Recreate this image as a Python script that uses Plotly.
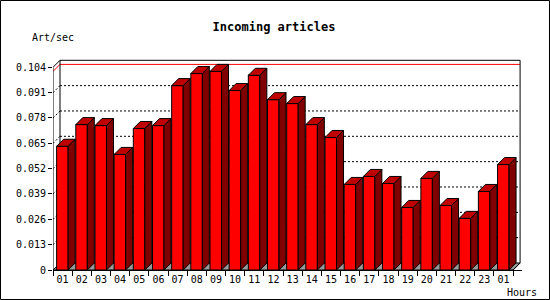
import plotly.graph_objects as go

# ---- data ----
hours = ["01", "02", "03", "04", "05", "06", "07", "08", "09", "10", "11", "12",
         "13", "14", "15", "16", "17", "18", "19", "20", "21", "22", "23", "01"]
values = [0.0635, 0.0746, 0.0741, 0.0593, 0.0726, 0.0741, 0.0946, 0.1008,
          0.1019, 0.0921, 0.0999, 0.0874, 0.0854, 0.0746, 0.0680, 0.0439,
          0.0480, 0.0444, 0.0321, 0.0470, 0.0331, 0.0265, 0.0403, 0.0541]
ytick_vals = [0, 0.013, 0.026, 0.039, 0.052, 0.065, 0.078, 0.091, 0.104]
ytick_text = ["0", "0.013", "0.026", "0.039", "0.052", "0.065", "0.078", "0.091", "0.104"]
title_text = "Incoming articles"
y_label = "Art/sec"
x_label = "Hours"

# ---- geometry (axis units) ----
W, H = 550, 300
ML, MR, MT, MB = 53, 28, 59, 30
PW, PH = W - ML - MR, H - MT - MB
slot_px = 19.17
px_per_unit = 1949.0
xmax = PW / slot_px
ymax = PH / px_per_unit
DX = 7 / slot_px
DY = 7 / px_per_unit
n = len(values)
top = ytick_vals[-1]
BAR_L, BAR_W = 0.19, 0.60

fig = go.Figure()

# front faces
fig.add_trace(go.Bar(
    x=[i + BAR_L + BAR_W / 2 for i in range(n)], y=values, width=BAR_W,
    marker=dict(color="#ff0000", line=dict(color="black", width=1)),
    hoverinfo="skip", showlegend=False))

# side & top faces
sx, sy, tx, ty = [], [], [], []
for i, v in enumerate(values):
    xl = i + BAR_L
    xr = xl + BAR_W
    sx += [xr, xr + DX, xr + DX, xr, xr, None]
    sy += [0, DY, v + DY, v, 0, None]
    tx += [xl, xr, xr + DX, xl + DX, xl, None]
    ty += [v, v, v + DY, v + DY, v, None]
fig.add_trace(go.Scatter(x=sx, y=sy, mode="lines", fill="toself", fillcolor="#800000",
                         line=dict(color="black", width=1), hoverinfo="skip", showlegend=False))
fig.add_trace(go.Scatter(x=tx, y=ty, mode="lines", fill="toself", fillcolor="#c00000",
                         line=dict(color="black", width=1), hoverinfo="skip", showlegend=False))

shapes = []
# floor
shapes.append(dict(type="path", layer="below", xref="x", yref="y",
                   path=f"M 0 0 L {n} 0 L {n + DX} {DY} L {DX} {DY} Z",
                   fillcolor="#999999", line=dict(color="black", width=1)))
# dotted gridlines on back wall + left wall
for t in ytick_vals[1:-1]:
    shapes.append(dict(type="line", layer="below", xref="x", yref="y",
                       x0=DX, y0=t + DY, x1=n + DX, y1=t + DY,
                       line=dict(color="black", width=1, dash="2px,2px")))
    shapes.append(dict(type="line", layer="below", xref="x", yref="y",
                       x0=0, y0=t, x1=DX, y1=t + DY,
                       line=dict(color="black", width=1, dash="2px,2px")))
# max line (red)
vmax = max(values)
shapes.append(dict(type="path", layer="below", xref="x", yref="y",
                   path=f"M 0 {vmax} L {DX} {vmax + DY} L {n + DX} {vmax + DY}",
                   line=dict(color="#ff0000", width=1)))
# frame
shapes.append(dict(type="path", layer="below", xref="x", yref="y",
                   path=(f"M 0 {top} L {DX} {top + DY} L {n + DX} {top + DY} "
                         f"L {n + DX} {DY} L {n} 0"),
                   line=dict(color="black", width=1)))
shapes.append(dict(type="line", layer="below", xref="x", yref="y",
                   x0=DX, y0=DY, x1=DX, y1=top + DY, line=dict(color="black", width=1)))
shapes.append(dict(type="line", layer="above", xref="x", yref="y",
                   x0=0, y0=0, x1=0, y1=top, line=dict(color="black", width=1)))
# outer border
shapes.append(dict(type="rect", xref="paper", yref="paper",
                   x0=(0.5 - ML) / PW, x1=(W - 0.5 - ML) / PW,
                   y0=(0.5 - MB) / PH, y1=(H - 0.5 - MB) / PH,
                   line=dict(color="black", width=1)))

mono = "DejaVu Sans Mono"
fig.update_layout(
    width=W, height=H, margin=dict(l=ML, r=MR, t=MT, b=MB, autoexpand=False),
    paper_bgcolor="white", plot_bgcolor="white",
    font=dict(family=mono, size=10, color="black"),
    title=dict(text=f"<b>{title_text}</b>", x=274 / W, xanchor="center",
               y=1 - 27 / H, yanchor="middle", font=dict(family=mono, size=12)),
    shapes=shapes,
    xaxis=dict(range=[0, xmax], showgrid=False, zeroline=False, showline=True,
               linecolor="black", linewidth=1,
               tickvals=[i + 0.5 for i in range(n)], ticktext=hours,
               ticks="outside", ticklen=0, tickcolor="black",
               minor=dict(tickvals=list(range(n + 1)), ticks="outside", ticklen=5,
                          tickcolor="black", showgrid=False),
               fixedrange=True),
    yaxis=dict(range=[0, ymax], showgrid=False, zeroline=False, showline=False,
               tickvals=ytick_vals, ticktext=ytick_text,
               ticks="outside", ticklen=4, tickcolor="black", fixedrange=True),
    annotations=[
        dict(text=y_label, xref="paper", yref="paper", x=(30 - ML) / PW, xanchor="left",
             y=(H - MB - 37) / PH, yanchor="middle", showarrow=False),
        dict(text=x_label, xref="paper", yref="paper", x=(505 - ML) / PW, xanchor="left",
             y=(H - MB - 292) / PH, yanchor="middle", showarrow=False),
    ],
    showlegend=False,
)

fig.write_html("out.html")
